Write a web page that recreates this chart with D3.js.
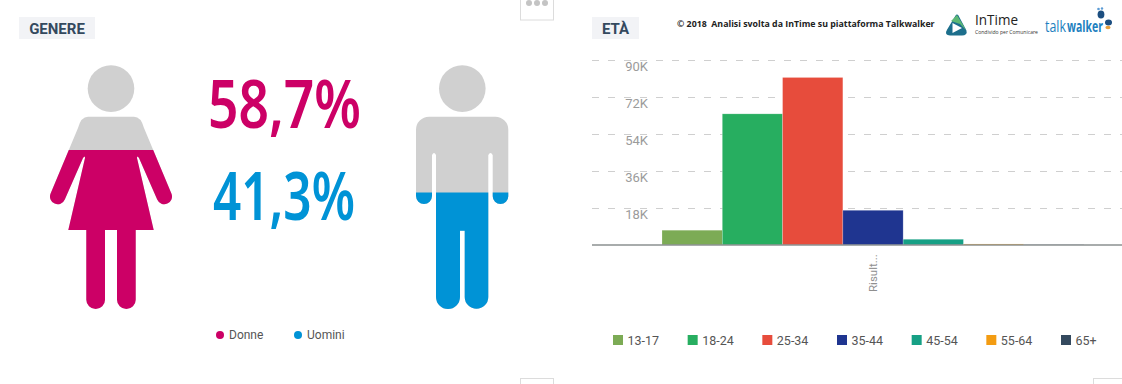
<!DOCTYPE html>
<html>
<head>
<meta charset="utf-8">
<script src="https://cdnjs.cloudflare.com/ajax/libs/d3/7.8.5/d3.min.js"></script>
<style>
  body { margin: 0; background: #fff; }
  text { font-family: Roboto, sans-serif; }
</style>
</head>
<body>
<div id="chart"></div>
<script>
// data
var genderLabels = ["Donne", "Uomini"];
var genderShares = [58.7, 41.3];
var genderColors = ["#cc0066", "#0093d6"];

var ageGroups = ["13-17", "18-24", "25-34", "35-44", "45-54", "55-64", "65+"];
var ageValues = [7200, 63800, 81500, 16900, 2800, 500, 150];
var ageColors = ["#7cab55", "#27ae60", "#e74c3c", "#1f3590", "#16a085", "#f39c12", "#34495e"];
var ageTicks = [18000, 36000, 54000, 72000, 90000];

var w = 1122, h = 384;
var grey = "#d0d0d0";

var svg = d3.select("#chart").append("svg")
    .attr("width", w)
    .attr("height", h)
    .style("display", "block");

// section tabs
function tab(x, width, label) {
  svg.append("rect").attr("x", x).attr("y", 17).attr("width", width).attr("height", 22).attr("fill", "#f2f3f6");
  svg.append("text").attr("x", x + width / 2).attr("y", 34).attr("text-anchor", "middle")
    .attr("font-size", 15).attr("font-weight", 700).attr("fill", "#34495e").text(label);
}
tab(19, 76, "GENERE");
tab(592, 47, "ETÀ");

// the little dashboard buttons cut by the screenshot
function button(x, y, width, height) {
  svg.append("rect").attr("x", x + .5).attr("y", y + .5).attr("width", width).attr("height", height)
    .attr("fill", "#fff").attr("stroke", "#dcdcdc");
}
button(520, -5, 33, 24.5);
button(520, 378, 33, 20);
button(1093, 378, 33, 20);
svg.selectAll(".menu-dot").data([-8, 0, 8]).enter().append("circle")
    .attr("class", "menu-dot")
    .attr("cx", function(d) { return 537 + d; })
    .attr("cy", 3)
    .attr("r", 3)
    .attr("fill", "#c4c4c4");

// pictograms: same shape twice, grey on top, colour clipped from the fill line down
var womanShape = "M88 116.7 H134 Q141 116.7 144 128 L171.4 193.5 A7.7 7.7 0 0 1 157.2 199.5 L139 158 Q137 155 137 158 L153.7 230 H135.7 V299.7 A9.35 9.35 0 0 1 117 299.7 V230 H105 V299.7 A9.35 9.35 0 0 1 86.3 299.7 V230 H68.3 L85 158 Q85 155 83 158 L64.8 199.5 A7.7 7.7 0 0 1 50.6 193.5 L78 128 Q81 116.7 88 116.7 Z";
var manShape = "M429 116.7 H495.3 A13 13 0 0 1 508.3 129.7 V196.2 A7.8 7.8 0 0 1 492.7 196.2 V155 Q490.5 151 488.3 155 V297 A11.8 11.8 0 0 1 464.7 297 V230.7 H460 V297 A12 12 0 0 1 436 297 V155 Q434 151 432 155 V196 A8 8 0 0 1 416 196 V129.7 A13 13 0 0 1 429 116.7 Z";

function person(id, cx, shape, fillTop, color) {
  svg.append("circle").attr("cx", cx).attr("cy", 88.6).attr("r", 23.3).attr("fill", grey);
  svg.append("path").attr("d", shape).attr("fill", grey);
  svg.append("clipPath").attr("id", id).append("rect")
    .attr("x", cx - 80).attr("y", fillTop).attr("width", 160).attr("height", 320 - fillTop);
  svg.append("path").attr("d", shape).attr("fill", color).attr("clip-path", "url(#" + id + ")");
}
person("clip-woman", 111, womanShape, 150, genderColors[0]);
person("clip-man", 462.3, manShape, 192.5, genderColors[1]);

// squeeze a text to a given width with a transform, so its box really shrinks too
function squeezed(x, y, width, size, weight, color, label) {
  var t = svg.append("text")
      .attr("font-size", size)
      .attr("font-weight", weight)
      .attr("fill", color)
      .style("font-family", "'Open Sans', sans-serif")
      .text(label);
  var k = width / t.node().getComputedTextLength();
  t.attr("transform", "translate(" + x + "," + y + ") scale(" + k + ",1)");
  return t;
}

// big percentages
var percentX = [208, 213], percentW = [152, 141], percentY = [128, 220];
genderShares.forEach(function(d, i) {
  squeezed(percentX[i], percentY[i], percentW[i], 67, 600, genderColors[i], d.toFixed(1).replace(".", ",") + "%")
    .style("font-family", "'Noto Sans', sans-serif");
});

// gender legend
var genderX = [220, 298];
svg.selectAll(".g-dot").data(genderLabels).enter().append("circle")
    .attr("class", "g-dot")
    .attr("cx", function(d, i) { return genderX[i]; })
    .attr("cy", 335)
    .attr("r", 4)
    .attr("fill", function(d, i) { return genderColors[i]; });
svg.selectAll(".g-label").data(genderLabels).enter().append("text")
    .attr("class", "g-label")
    .attr("x", function(d, i) { return genderX[i] + 9; })
    .attr("y", 339)
    .attr("font-size", 12)
    .attr("fill", "#555")
    .text(function(d) { return d; });

// age chart
var x = d3.scaleBand().domain(ageGroups).range([662, 1084]);
var y = d3.scaleLinear().domain([0, 90000]).range([245, 60]);

svg.selectAll(".grid").data(ageTicks).enter().append("line")
    .attr("class", "grid")
    .attr("x1", 592)
    .attr("x2", 1122)
    .attr("y1", function(d) { return Math.round(y(d)) + .5; })
    .attr("y2", function(d) { return Math.round(y(d)) + .5; })
    .attr("stroke", "#cfcfcf")
    .attr("stroke-dasharray", "7 9");

var yAxis = svg.append("g")
    .attr("transform", "translate(648,0)")
    .call(d3.axisLeft(y).tickValues(ageTicks).tickSize(0).tickPadding(0)
      .tickFormat(function(d) { return (d / 1000) + "K"; }));
yAxis.select(".domain").remove();
yAxis.selectAll("text")
    .attr("dy", 10.5)
    .attr("font-size", 13)
    .style("font-family", "Roboto, sans-serif")
    .attr("fill", "#9b9b9b");

svg.selectAll(".bar").data(ageValues).enter().append("rect")
    .attr("class", "bar")
    .attr("x", function(d, i) { return x(ageGroups[i]); })
    .attr("width", x.bandwidth())
    .attr("y", function(d) { return y(d); })
    .attr("height", function(d) { return y(0) - y(d); })
    .attr("fill", function(d, i) { return ageColors[i]; })
    .attr("stroke", "#fff")
    .attr("stroke-opacity", .35)
    .attr("stroke-width", .6);

svg.append("line").attr("x1", 592).attr("x2", 1122).attr("y1", 245).attr("y2", 245)
    .attr("stroke", "#8b9090").attr("stroke-width", 1.6);

svg.append("text")
    .attr("transform", "translate(877,292) rotate(-90)")
    .attr("font-size", 11.5)
    .attr("fill", "#8f8f8f")
    .text("Risult...");

// age legend
var legendX = d3.scalePoint().domain(ageGroups).range([613, 1061]);
svg.selectAll(".a-box").data(ageGroups).enter().append("rect")
    .attr("class", "a-box")
    .attr("x", function(d) { return legendX(d); })
    .attr("y", 335)
    .attr("width", 10)
    .attr("height", 10)
    .attr("fill", function(d, i) { return ageColors[i]; });
svg.selectAll(".a-label").data(ageGroups).enter().append("text")
    .attr("class", "a-label")
    .attr("x", function(d) { return legendX(d) + 14.5; })
    .attr("y", 344.5)
    .attr("font-size", 12.5)
    .attr("fill", "#555")
    .text(function(d) { return d; });

// credit line and logos
squeezed(677, 27, 258, 9, 700, "#222", "© 2018\u00a0\u00a0Analisi svolta da InTime su piattaforma Talkwalker");

svg.append("path").attr("d", "M957 16 L965 31 Q966 34 962 34 H950 Q946 34 948 31 Z")
    .attr("fill", "#1d6f8c").attr("stroke", "#1d6f8c").attr("stroke-width", 3).attr("stroke-linejoin", "round");
svg.append("path").attr("d", "M952.5 23 L962 28 L952.5 33 Z").attr("fill", "#fff");
svg.append("path").attr("d", "M957 15 L966 30 L960 24 L951 21 Z").attr("fill", "#5cb874");
squeezed(975, 25, 43, 14, 400, "#222", "InTime");
squeezed(975, 33.5, 63, 5.5, 400, "#333", "Condivido per Comunicare");

squeezed(1045, 32, 21, 16.5, 400, "#1d7fc0", "talk");
squeezed(1067, 32, 36, 16.5, 700, "#1d7fc0", "walker");
svg.selectAll(".foot").data([[1101, 14.5, 3.4, 4, "#1c4e80"], [1098.5, 9, 1.3, 1.3, "#5b9bd5"], [1102, 8.5, 1.2, 1.2, "#5b9bd5"], [1108.5, 22.5, 3.5, 3, "#1c4e80"], [1108, 27.5, 2.6, 1.8, "#e8a03a"]]).enter().append("ellipse")
    .attr("class", "foot")
    .attr("cx", function(d) { return d[0]; })
    .attr("cy", function(d) { return d[1]; })
    .attr("rx", function(d) { return d[2]; })
    .attr("ry", function(d) { return d[3]; })
    .attr("fill", function(d) { return d[4]; });
</script>
</body>
</html>
